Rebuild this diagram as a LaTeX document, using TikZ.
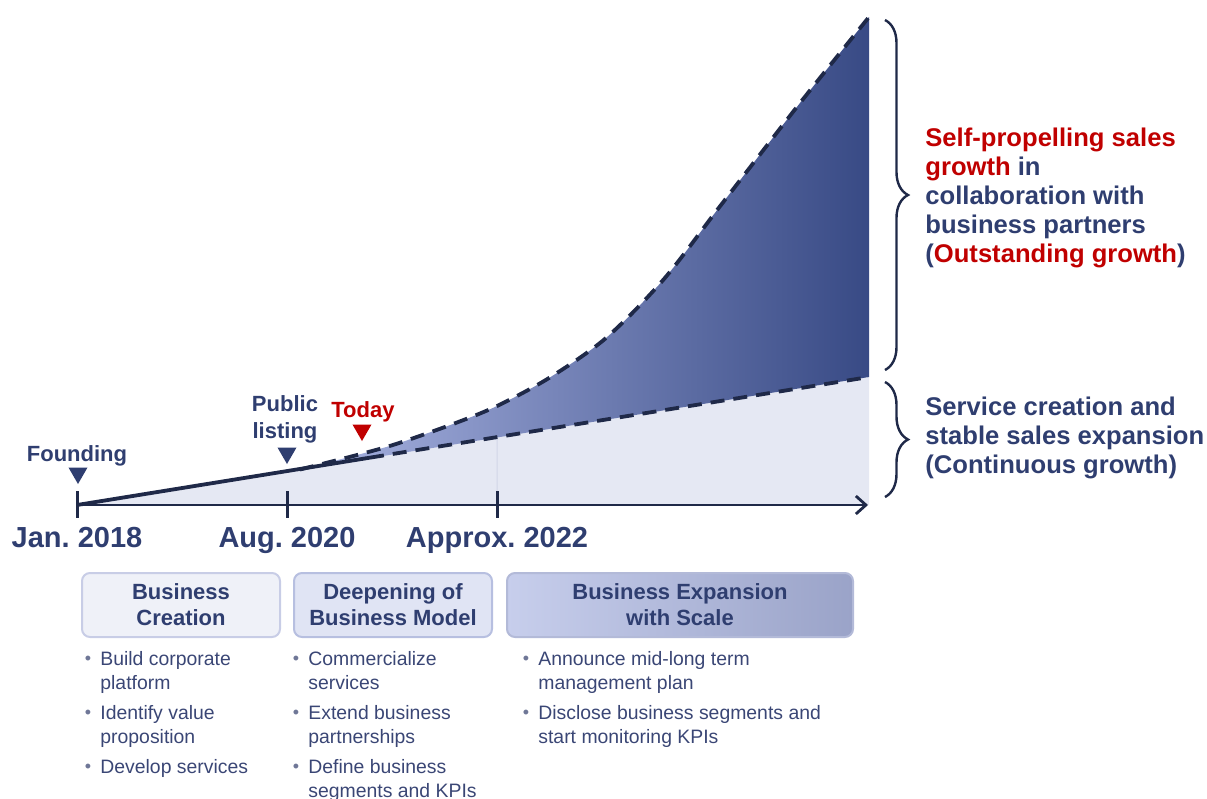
\documentclass[tikz,border=0pt]{standalone}
\usepackage{fontspec}
\setmainfont{Liberation Sans}
\usetikzlibrary{arrows.meta,shapes.geometric,calc,positioning,decorations.pathreplacing}
\frenchspacing

\definecolor{navyText}{HTML}{2F3E70}
\definecolor{navyLine}{HTML}{1F2948}
\definecolor{redText}{HTML}{C00000}
\definecolor{baseFill}{HTML}{E5E8F3}
\definecolor{baseRule}{HTML}{D2D6E8}
\definecolor{growLight}{HTML}{AAB5E3}
\definecolor{growMid}{HTML}{8595CD}
\definecolor{growDark}{HTML}{384A85}
\definecolor{itemText}{HTML}{3A4675}
\definecolor{itemDot}{HTML}{6F7797}

\tikzset{
	axis line/.style={line width=1.4pt,draw=navyLine},
	trend/.style={line width=1.9pt,draw=navyLine,dash pattern=on 7pt off 4.5pt},
	tick mark/.style={line width=1.5pt,draw=navyLine},
	date label/.style={font=\bfseries\fontsize{14.5}{16}\selectfont,text=navyText,anchor=base,inner sep=0pt},
	event label/.style={font=\bfseries\fontsize{11}{13.5}\selectfont,text=navyText,align=center,inner sep=0pt},
	event mark/.style={regular polygon,regular polygon sides=3,shape border rotate=180,fill=navyText,inner sep=0pt,minimum size=11pt},
	phase box/.style={draw,line width=1pt,rounded corners=4pt,minimum width=#1,minimum height=32pt,font=\bfseries\fontsize{11}{13}\selectfont,text=navyText,align=center},
	item/.style={font=\fontsize{9.7}{12}\selectfont,text=itemText,align=left,anchor=north west,inner sep=0pt},
	bullet/.style={font=\fontsize{9}{10}\selectfont,text=itemDot,inner sep=0pt},
	side note/.style={font=\bfseries\fontsize{12.8}{14.5}\selectfont,text=navyText,align=left,anchor=north west,inner sep=0pt},
	side brace/.style={decorate,decoration={brace,amplitude=11.5pt},line width=1.2pt,draw=navyLine},
}

\begin{document}
\begin{tikzpicture}[x=0.5pt,y=-0.5pt]
	\useasboundingbox (0,0) rectangle (1207,799);

	\coordinate (o) at (77,505);
	\coordinate (tAug) at (287,505);
	\coordinate (tApp) at (497,505);
	\coordinate (axisEnd) at (868,505);
	\coordinate (lowEnd) at (869,377);
	\coordinate (fork) at ($(o)!0.2816!(lowEnd)$);
	\coordinate (split) at ($(o)!0.37!(lowEnd)$);
	\coordinate (lowMid) at ($(o)!0.5303!(lowEnd)$);

	% areas under the two trends
	\fill[baseFill] (o) -- (lowEnd) -- (lowEnd |- o) -- cycle;
	\draw[baseRule,line width=0.5pt] (tApp) -- (lowMid);
	\shade[left color=growLight,middle color=growMid,right color=growDark]
		plot[smooth] coordinates {(300,469.5) (357,455) (396,444) (453,424) (497,406) (549,378) (606,338) (664,279) (721,205) (800,103) (869,17)}
		-- (lowEnd) -- cycle;

	% trends
	\draw[navyLine,line width=1.9pt] (o) -- (split);
	\draw[trend] (split) -- (lowEnd);
	\draw[trend] plot[smooth] coordinates {(300,469.5) (357,455) (396,444) (453,424) (497,406) (549,378) (606,338) (664,279) (721,205) (800,103) (869,17)};

	% time axis
	\draw[axis line,-{Straight Barb[length=5pt,width=9pt]}] (o) -- (axisEnd);
	\foreach \t in {o,tAug,tApp}
		\draw[tick mark] ($(\t)+(0,-14)$) -- ($(\t)+(0,13)$);

	\node (lblJan) at (77,547) [date label] {Jan. 2018};
	\node (lblAug) at (287,547) [date label] {Aug. 2020};
	\node (lblApp) at (497,547) [date label] {Approx. 2022};

	\node (triFound) at (78,473) [event mark] {};
	\node (lblFound) at (77,461) [event label,anchor=base] {Founding};
	\node (triList) at (287,453) [event mark] {};
	\node (lblList) at (285,444) [event label,anchor=south] {Public\\listing};
	\node (triToday) at (362,430) [event mark,fill=redText] {};
	\node (lblToday) at (363,417) [event label,anchor=base,text=redText] {Today};

	% braces and notes
	\coordinate (braceUpTop) at (885,20);
	\coordinate (braceUpBot) at (885,370);
	\coordinate (braceLoTop) at (885,382);
	\coordinate (braceLoBot) at (885,497);
	\draw[side brace] (braceUpTop) -- (braceUpBot);
	\draw[side brace] (braceLoTop) -- (braceLoBot);

	\node (noteUp) at (925,128) [side note] {\textcolor{redText}{Self-propelling sales}\\\textcolor{redText}{growth} in\\collaboration with\\business partners\\(\textcolor{redText}{Outstanding growth})};
	\node (noteLo) at (925,397) [side note] {Service creation and\\stable sales expansion\\(Continuous growth)};

	% phases
	\node (phCreate) at (181,605) [phase box=99pt,draw={rgb,255:red,200;green,205;blue,230},fill={rgb,255:red,239;green,241;blue,248}] {Business\\Creation};
	\node (phDeep) at ($(phCreate.east)+(12,0)$) [phase box=99pt,anchor=west,draw={rgb,255:red,183;green,191;blue,224},fill={rgb,255:red,224;green,228;blue,244}] {Deepening of\\Business Model};
	\node (phScale) at ($(phDeep.east)+(13,0)$) [phase box=173pt,anchor=west,draw={rgb,255:red,179;green,186;blue,216},left color={rgb,255:red,199;green,206;blue,236},right color={rgb,255:red,154;green,163;blue,200}] {Business Expansion\\with Scale};

	\node (itemA1) at (100,651) [item] {Build corporate\\platform};
	\node (itemA2) at (100,705) [item] {Identify value\\proposition};
	\node (itemA3) at (100,759) [item] {Develop services};
	\node (itemB1) at (308,651) [item] {Commercialize\\services};
	\node (itemB2) at (308,705) [item] {Extend business\\partnerships};
	\node (itemB3) at (308,759) [item] {Define business\\segments and KPIs};
	\node (itemC1) at (538,651) [item] {Announce mid-long term\\management plan};
	\node (itemC2) at (538,705) [item] {Disclose business segments and\\start monitoring KPIs};
	\foreach \i in {A1,A2,A3,B1,B2,B3,C1,C2}
		\node (dot\i) at ($(item\i.north west)+(-12,9)$) [bullet] {\textbullet};
\end{tikzpicture}
\end{document}
